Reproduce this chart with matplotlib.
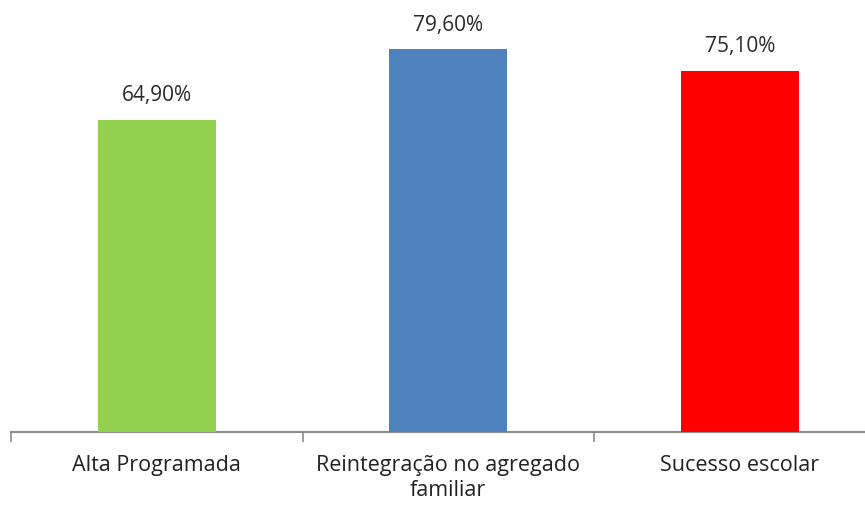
import matplotlib.pyplot as plt

categories = ["Alta Programada", "Reintegração no agregado\nfamiliar", "Sucesso escolar"]
values = [64.9, 79.6, 75.1]
labels = ["64,90%", "79,60%", "75,10%"]
colors = ["#92D050", "#4F81BD", "#FF0000"]

plt.rcParams['font.family'] = ['Open Sans', 'DejaVu Sans']

fig = plt.figure(figsize=(8.65, 5.06), dpi=100)
ax = fig.add_axes([11 / 865, 1 - 433 / 506, 874.5 / 865, 433 / 506])

x = range(len(categories))
bars = ax.bar(x, values, width=0.405, color=colors, zorder=1)

for b, lab in zip(bars, labels):
    ax.annotate(lab, (b.get_x() + b.get_width() / 2, b.get_height()),
                xytext=(0, 18), textcoords='offset points',
                ha='center', va='center', fontsize=15, color='#2a2a2a')

ax.set_xlim(-0.5, 2.5)
ax.set_ylim(0, 90)
ax.set_yticks([])
ax.set_xticks(list(x))
ax.set_xticklabels(categories, fontsize=15.5, color='#222222', linespacing=1.25)
ax.set_xticks([-0.5, 0.5, 1.5, 2.5], minor=True)
ax.tick_params(axis='x', which='major', length=0, pad=16)
ax.tick_params(axis='x', which='minor', length=7, width=1.2, color='#8c8c8c', direction='out')

for s in ['top', 'right', 'left']:
    ax.spines[s].set_visible(False)
ax.spines['bottom'].set_color('#8c8c8c')
ax.spines['bottom'].set_linewidth(1.5)
ax.spines['bottom'].set_zorder(0)

fig.savefig('out.png', dpi=100)
